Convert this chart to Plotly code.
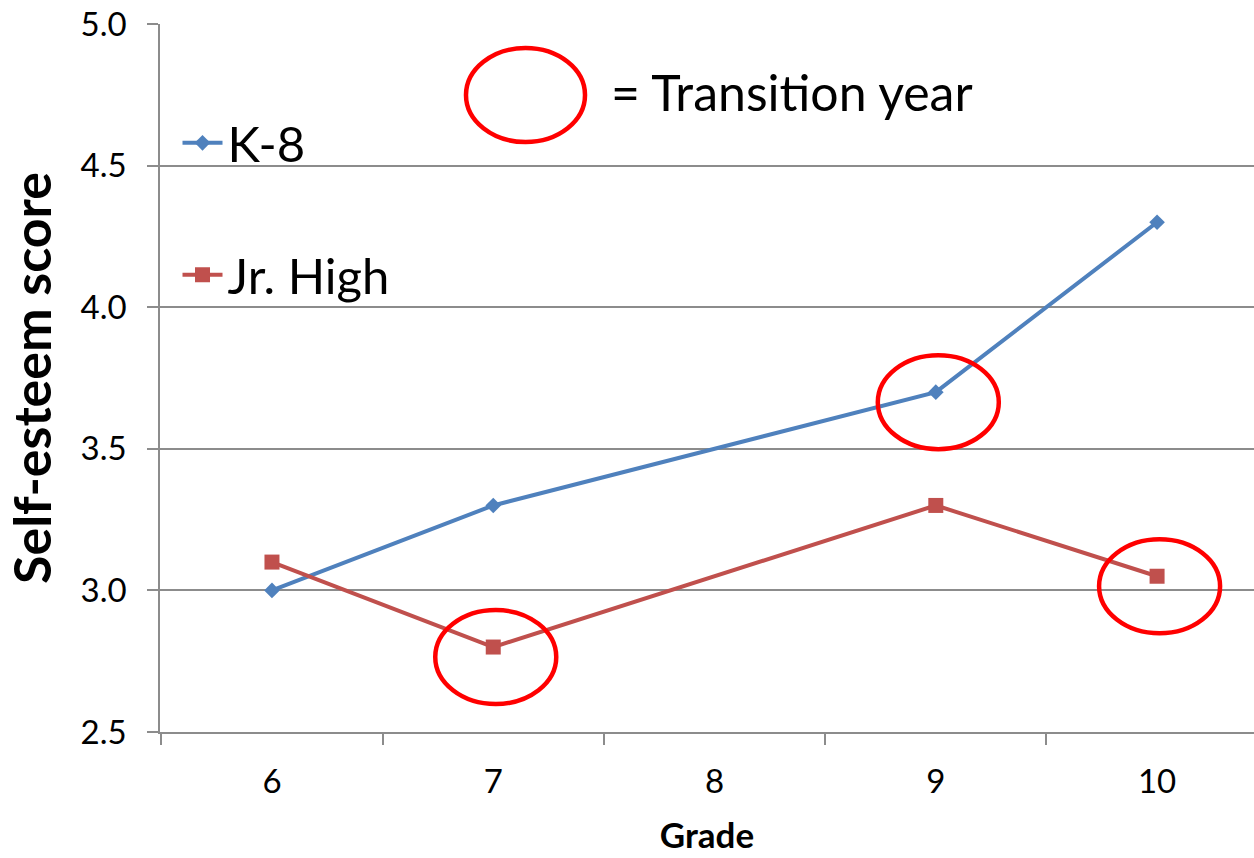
import plotly.graph_objects as go

# Grades on the horizontal axis (category axis)
grades = ["6", "7", "8", "9", "10"]

# Mean self-esteem score per grade; grade 8 was not measured
k8_scores = [3.0, 3.3, None, 3.7, 4.3]
jrhigh_scores = [3.1, 2.8, None, 3.3, 3.05]

# Transition years: (grade, series) pairs that get a red ring
transitions = [("7", "Jr. High"), ("9", "K-8"), ("10", "Jr. High")]

y_ticks = [2.5, 3.0, 3.5, 4.0, 4.5, 5.0]

BLUE = "#4F81BD"
RED = "#C0504D"
RING = "#FF0000"
GRID = "#8C8C8C"
FONT = "Lato"

series = {"K-8": k8_scores, "Jr. High": jrhigh_scores}

fig = go.Figure()

fig.add_trace(go.Scatter(
    x=grades, y=k8_scores, name="K-8", mode="lines+markers",
    connectgaps=True, showlegend=True,
    line=dict(color=BLUE, width=4),
    marker=dict(symbol="diamond", size=12, color=BLUE),
    legend="legend",
))
fig.add_trace(go.Scatter(
    x=grades, y=jrhigh_scores, name="Jr. High", mode="lines+markers",
    connectgaps=True, showlegend=True,
    line=dict(color=RED, width=4),
    marker=dict(symbol="square", size=15, color=RED),
    legend="legend2",
))

# Red rings around the transition-year points, sized in pixels
for grade, name in transitions:
    idx = grades.index(grade)
    val = series[name][idx]
    fig.add_shape(
        type="circle", xref="x", yref="y",
        xsizemode="pixel", ysizemode="pixel",
        xanchor=idx, yanchor=val,
        x0=-58, x1=63, y0=-57, y1=37,
        line=dict(color=RING, width=4.5),
        fillcolor="rgba(0,0,0,0)",
        layer="above",
    )

# Key for the rings
fig.add_shape(
    type="circle", xref="paper", yref="paper",
    x0=0.2797, x1=0.3885, y0=0.8333, y1=0.9661,
    line=dict(color=RING, width=4.5),
)
fig.add_annotation(
    text="= Transition year", xref="paper", yref="paper",
    x=0.410, y=0.904, xanchor="left", yanchor="middle",
    showarrow=False, font=dict(family=FONT, size=50, color="#000000"),
)

legend_style = dict(
    font=dict(family=FONT, size=49, color="#000000"),
    bgcolor="rgba(0,0,0,0)", borderwidth=0,
    xanchor="left", yanchor="middle", itemwidth=40,
)

fig.update_layout(
    width=1254, height=858, autosize=False,
    paper_bgcolor="white", plot_bgcolor="white",
    margin=dict(l=160, r=0, t=24, b=126),
    showlegend=True,
    legend=dict(x=0.016, y=(732 - 143) / 708, **legend_style),
    legend2=dict(x=0.016, y=(732 - 275) / 708, **legend_style),
    xaxis=dict(
        type="category", categoryorder="array", categoryarray=grades,
        range=[-0.506, 4.438],
        showgrid=False, zeroline=False,
        showline=True, linecolor=GRID, linewidth=1.5,
        ticks="outside", tickson="boundaries", ticklen=11,
        tickcolor=GRID, tickwidth=1.5,
        tickfont=dict(family=FONT, size=33, color="#000000"),
        ticklabelstandoff=20,
        title=dict(text="<b>Grade</b>", standoff=24,
                   font=dict(family=FONT, size=35, color="#000000")),
    ),
    yaxis=dict(
        range=[2.5, 5.0], tickvals=y_ticks,
        ticktext=[f"{v:.1f}" for v in y_ticks],
        showgrid=True, gridcolor=GRID, gridwidth=1.5,
        zeroline=False,
        showline=True, linecolor=GRID, linewidth=1.5,
        ticks="outside", ticklen=11, tickcolor=GRID, tickwidth=1.5,
        tickfont=dict(family=FONT, size=33, color="#000000"),
        ticklabelstandoff=14,
        title=dict(text="<b>Self-esteem score</b>", standoff=16,
                   font=dict(family=FONT, size=52, color="#000000")),
    ),
)

fig.write_html("out.html")
